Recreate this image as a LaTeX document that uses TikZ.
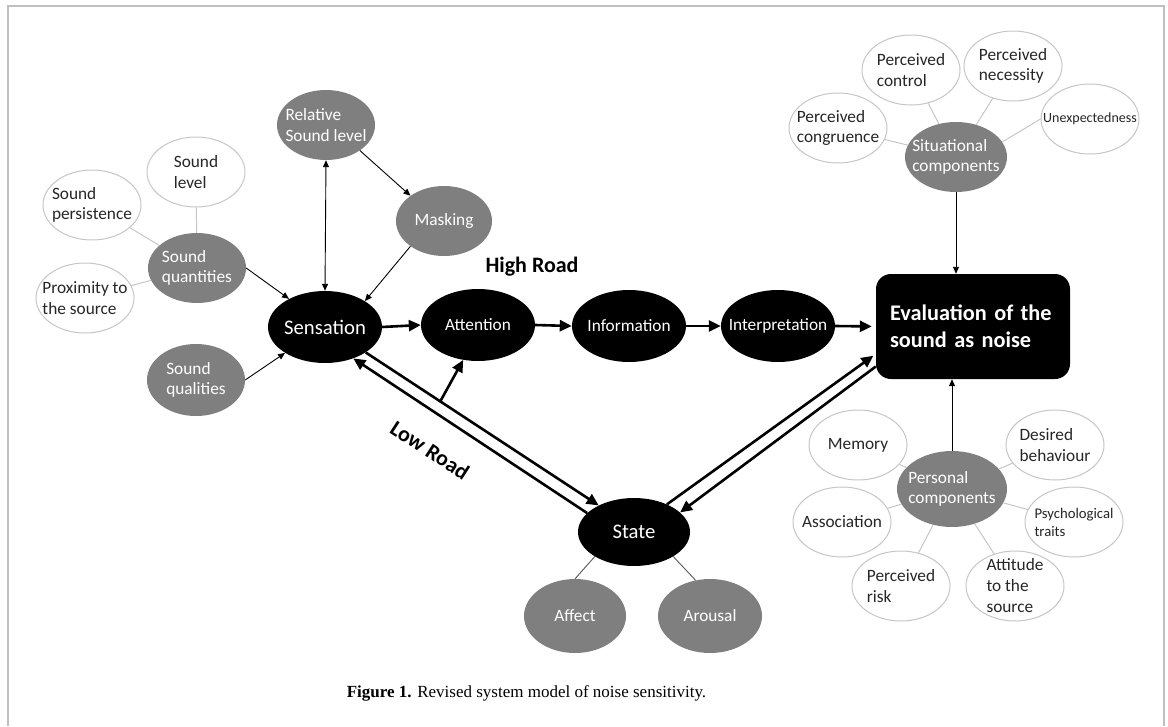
\documentclass[tikz,border=0pt]{standalone}
\usepackage{fontspec}
\setmainfont{Liberation Serif}
\newfontfamily\calibrifont{Carlito}
\usepackage{tikz}
\usetikzlibrary{
  shapes.geometric, arrows.meta, calc
}
\definecolor{bubblegray}{HTML}{7F7F7F}
\definecolor{rimgray}{HTML}{C6C6C6}
\definecolor{framegray}{HTML}{C0C0C0}
\tikzset{
	basenode/.style={
			shape=ellipse,
			inner sep=-20pt,
			align=left,
			minimum width=98pt,
			minimum height=70pt,
			font=\calibrifont\fontsize{17.3}{20.7}\selectfont
		},
	whitenode/.style={
			basenode,
			draw=rimgray,
			line width=1pt,
			fill=white,
			text=black!85
		},
	graynode/.style={
			basenode,
			fill=bubblegray,
			text=white
		},
	blacknode/.style={
			basenode,
			fill=black,
			text=white,
			minimum width=114pt,
			minimum height=72pt
		},
	bignode/.style={
			blacknode,
			font=\calibrifont\fontsize{20.7}{24}\selectfont
		},
	evalnode/.style={
			shape=rectangle,
			rounded corners=15pt,
			fill=black,
			text=white,
			align=left,
			text width=166pt,
			inner xsep=14pt,
			minimum height=105pt,
			font=\calibrifont\bfseries\fontsize{22.3}{27}\selectfont
		}
}
\tikzset{
	thinarrow/.style={line width=0.9pt, -{Triangle[length=7pt,width=6pt]}},
	thinboth/.style={line width=0.9pt, {Triangle[length=7pt,width=6pt]}-{Triangle[length=7pt,width=6pt]}},
	thickarrow/.style={line width=2.6pt, -{Triangle[length=12pt,width=11pt]}},
	lightlink/.style={draw=rimgray, line width=1pt},
	darklink/.style={draw=black!65, line width=0.9pt},
	roadtext/.style={font=\calibrifont\bfseries\fontsize{22}{26}\selectfont}
}

\begin{document}
\begin{tikzpicture}[x=1pt, y=-1pt]
	\useasboundingbox (0,0) rectangle (1168,726);
	\draw[framegray, line width=2pt] (8,726) -- (8,6) -- (1164,6) -- (1164,726);

	\node[graynode] (rel) at (326,125) {Relative\\Sound level};
	\node[whitenode] (slev) at (196,172) {Sound\\level};
	\node[whitenode] (spers) at (92,205) {Sound\\persistence};
	\node[graynode] (sqty) at (197,268) {Sound\\quantities};
	\node[whitenode] (prox) at (85,298) {Proximity to\\the source};
	\node[graynode, minimum height=72pt] (sqal) at (196,380) {Sound\\qualities};
	\node[graynode, minimum width=96pt] (mask) at (444,221) {Masking};

	\node[bignode] (sens) at (325,327) {Sensation};
	\node[blacknode] (att) at (478,325) {Attention};
	\node[blacknode] (info) at (629,326) {Information};
	\node[blacknode] (interp) at (778,326) {Interpretation};
	\node[evalnode] (eval) at (973,326.5) {Evaluation of the\\sound as noise};

	\node[bignode, minimum width=112pt, minimum height=68pt] (state) at (634,532) {State};
	\node[graynode, minimum width=102pt, minimum height=74pt] (aff) at (575,616) {Affect};
	\node[graynode, minimum width=104pt, minimum height=74pt] (aro) at (710,616) {Arousal};

	\node[graynode, minimum width=102pt] (sit) at (956,157) {Situational\\components};
	\node[whitenode] (pcong) at (838,128) {Perceived\\congruence};
	\node[whitenode] (pctrl) at (911,70) {Perceived\\control};
	\node[whitenode] (pnec) at (1013,66) {Perceived\\necessity};
	\node[whitenode, font=\calibrifont\fontsize{14}{17}\selectfont] (unexp) at (1090,119) {Unexpectedness};

	\node[graynode, minimum width=110pt, minimum height=76pt] (pers) at (952,489) {Personal\\components};
	\node[whitenode] (mem) at (858,445) {Memory};
	\node[whitenode] (des) at (1055,445) {Desired\\behaviour};
	\node[whitenode] (assoc) at (842,522) {Association};
	\node[whitenode, font=\calibrifont\fontsize{14.7}{18}\selectfont] (psy) at (1074,522) {Psychological\\traits};
	\node[whitenode] (prisk) at (901,586) {Perceived\\risk};
	\node[whitenode, font=\calibrifont\fontsize{17.3}{21}\selectfont] (attsrc) at (1015,586) {Attitude\\to the\\source};

	\node[roadtext] (highroad) at (532,267) {High Road};
	\node[roadtext, rotate=-33] (lowroad) at (430,450) {Low Road};

	\node[font=\fontsize{17}{20}\selectfont] (caption) at (526.5,693) {\textbf{Figure 1.} Revised system model of noise sensitivity.};

	\draw[lightlink] (slev) -- (sqty);
	\draw[lightlink] (spers) -- (sqty);
	\draw[lightlink] (prox) -- (sqty);
	\draw[lightlink] (pcong) -- (sit);
	\draw[lightlink] (pctrl) -- (sit);
	\draw[lightlink] (pnec) -- (sit);
	\draw[lightlink] (unexp.west) -- (sit.18);
	\draw[lightlink] (mem) -- (pers);
	\draw[lightlink] (des) -- (pers);
	\draw[lightlink] (assoc) -- (pers);
	\draw[lightlink] (psy) -- (pers);
	\draw[lightlink] (prisk) -- (pers);
	\draw[lightlink] (attsrc) -- (pers);
	\draw[darklink] (state.212) -- (aff.north);
	\draw[darklink] (state.328) -- (aro.112);

	\draw[thinarrow] (sqty.east) -- (sens.142);
	\draw[thinarrow] (sqal.east) -- (sens.213);
	\draw[thinboth] (rel.south) -- (sens.north);
	\draw[thinarrow] (rel.-37) -- (mask.143);
	\draw[thinarrow] (mask.217) -- (sens.33);
	\draw[thinarrow] (sit.south) -- (sit.south |- eval.north);
	\draw[thinarrow] (pers.north) -- (pers.north |- eval.south);

	\draw[thickarrow] (sens.east) -- (att.west);
	\draw[thickarrow] (att.east) -- (info.west);
	\draw[thickarrow] (info.east) -- (interp.west);
	\draw[thickarrow, shorten >=4pt] (interp.east) -- (eval.west);
	\draw[thickarrow] (sens.-32) -- coordinate[pos=0.32] (lowmid) (state.143);
	\draw[thickarrow] (state.158) -- (sens.-48);
	\draw[thickarrow] (lowmid) -- (att.-113);
	\draw[thickarrow, shorten >=3pt] (state.40) -- ([yshift=-27.5pt]eval.west);
	\draw[thickarrow] ([yshift=-40pt]eval.west) -- (state.23);
\end{tikzpicture}
\end{document}
